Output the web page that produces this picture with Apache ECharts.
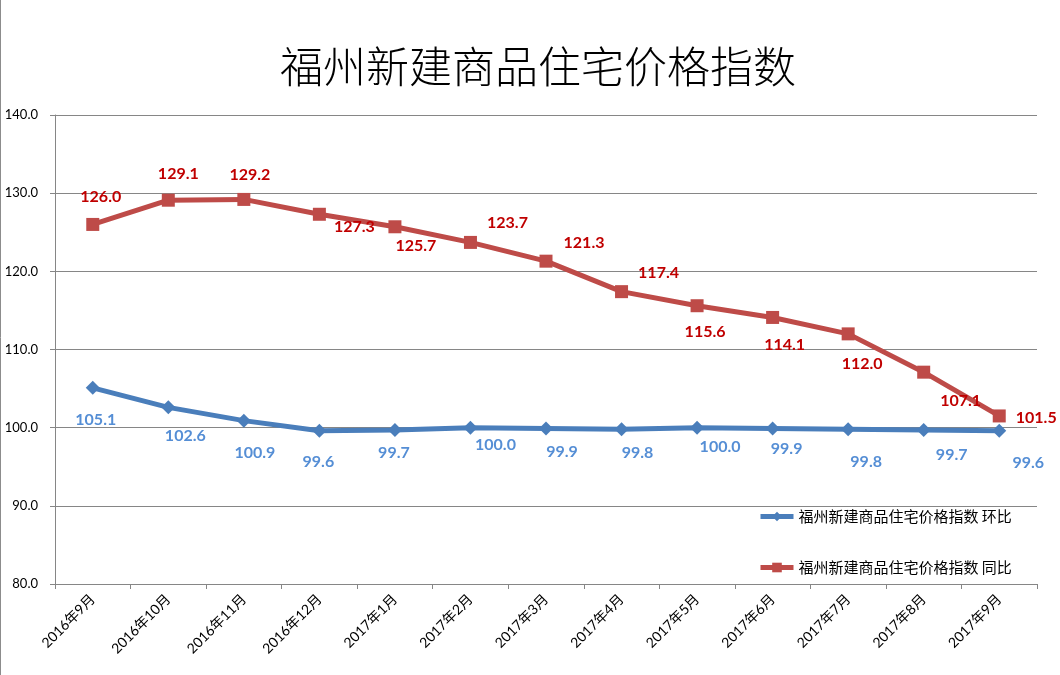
<!DOCTYPE html>
<html>
<head>
<meta charset="utf-8">
<script src="https://cdn.jsdelivr.net/npm/echarts@6/dist/echarts.min.js"></script>
<style>
html,body{margin:0;padding:0;background:#fff;}
#chart{width:1060px;height:675px;}
</style>
</head>
<body>
<div id="chart"></div>
<script>
// ---- data ----
var titleText = '福州新建商品住宅价格指数';
var categories = ['2016年9月','2016年10月','2016年11月','2016年12月','2017年1月','2017年2月','2017年3月','2017年4月','2017年5月','2017年6月','2017年7月','2017年8月','2017年9月'];
var seriesHuanbiName = '福州新建商品住宅价格指数 环比';
var seriesTongbiName = '福州新建商品住宅价格指数 同比';
var huanbiValues = [105.1, 102.6, 100.9, 99.6, 99.7, 100.0, 99.9, 99.8, 100.0, 99.9, 99.8, 99.7, 99.6];
var tongbiValues = [126.0, 129.1, 129.2, 127.3, 125.7, 123.7, 121.3, 117.4, 115.6, 114.1, 112.0, 107.1, 101.5];
var yMin = 80, yMax = 140, yInterval = 10;

// ---- label placement (style only) ----
var tongbiLabelOffsets = [[8,-28],[10,-26],[6,-25],[35,13],[21,19],[37,-20],[38,-18],[37,-19],[8,26],[12,27],[14,30],[37,29],[37,2]];
var huanbiLabelOffsets = [[3,32],[17,29],[11,32],[-1,31],[-1,23],[25,17],[16,23],[16,24],[23,19],[14,20],[18,33],[28,25],[29,32]];

var numFont = 'Lato, "Noto Sans CJK SC", sans-serif';

function buildData(values, offsets, color) {
  return values.map(function (v, i) {
    return {
      value: v,
      label: {
        show: true,
        position: 'inside',
        offset: offsets[i],
        formatter: function (p) { return Number(p.value).toFixed(1); },
        color: color,
        fontWeight: 'bold',
        fontSize: 16,
        fontFamily: numFont
      }
    };
  });
}

var chart = echarts.init(document.getElementById('chart'), null, {renderer: 'canvas'});
var option = {
  backgroundColor: '#ffffff',
  animation: false,
  title: {
    text: titleText,
    left: 275,
    top: 40,
    textStyle: {
      fontSize: 43,
      fontWeight: 300,
      color: '#000000',
      fontFamily: '"Noto Sans CJK SC", sans-serif'
    }
  },
  graphic: [{
    type: 'line',
    shape: {x1: 0.5, y1: 0, x2: 0.5, y2: 675},
    style: {stroke: '#8c8c8c', lineWidth: 1}
  }],
  grid: {left: 55, right: 23, top: 115, bottom: 91, containLabel: false},
  legend: {
    orient: 'vertical',
    left: 758,
    top: 509,
    padding: 0,
    itemWidth: 33,
    itemHeight: 12,
    itemGap: 36,
    lineStyle: {width: 5},
    textStyle: {fontSize: 15, color: '#000000', fontFamily: '"Noto Sans CJK SC", sans-serif'},
    data: [seriesHuanbiName, seriesTongbiName]
  },
  xAxis: {
    type: 'category',
    data: categories,
    boundaryGap: true,
    axisLine: {lineStyle: {color: '#868686', width: 1}},
    axisTick: {show: true, length: 5, lineStyle: {color: '#868686'}},
    axisLabel: {
      rotate: 45,
      margin: 13,
      interval: 0,
      fontSize: 14,
      color: '#000000',
      fontFamily: numFont
    },
    splitLine: {show: false}
  },
  yAxis: {
    type: 'value',
    min: yMin,
    max: yMax,
    interval: yInterval,
    axisLine: {show: true, lineStyle: {color: '#868686', width: 1}},
    axisTick: {show: true, length: 5, inside: false, lineStyle: {color: '#868686'}},
    axisLabel: {
      margin: 17,
      fontSize: 13,
      color: '#000000',
      fontFamily: numFont,
      formatter: function (v) { return v.toFixed(1); }
    },
    splitLine: {show: true, lineStyle: {color: '#868686', width: 1}}
  },
  series: [
    {
      name: seriesHuanbiName,
      type: 'line',
      data: buildData(huanbiValues, huanbiLabelOffsets, '#558ED5'),
      symbol: 'diamond',
      symbolSize: 14,
      lineStyle: {color: '#4A7EBB', width: 5},
      itemStyle: {color: '#4A7EBB'},
      z: 3
    },
    {
      name: seriesTongbiName,
      type: 'line',
      data: buildData(tongbiValues, tongbiLabelOffsets, '#C00000'),
      symbol: 'rect',
      symbolSize: 13,
      lineStyle: {color: '#BE4B48', width: 5},
      itemStyle: {color: '#BE4B48'},
      z: 4
    }
  ]
};
chart.setOption(option);
</script>
</body>
</html>
